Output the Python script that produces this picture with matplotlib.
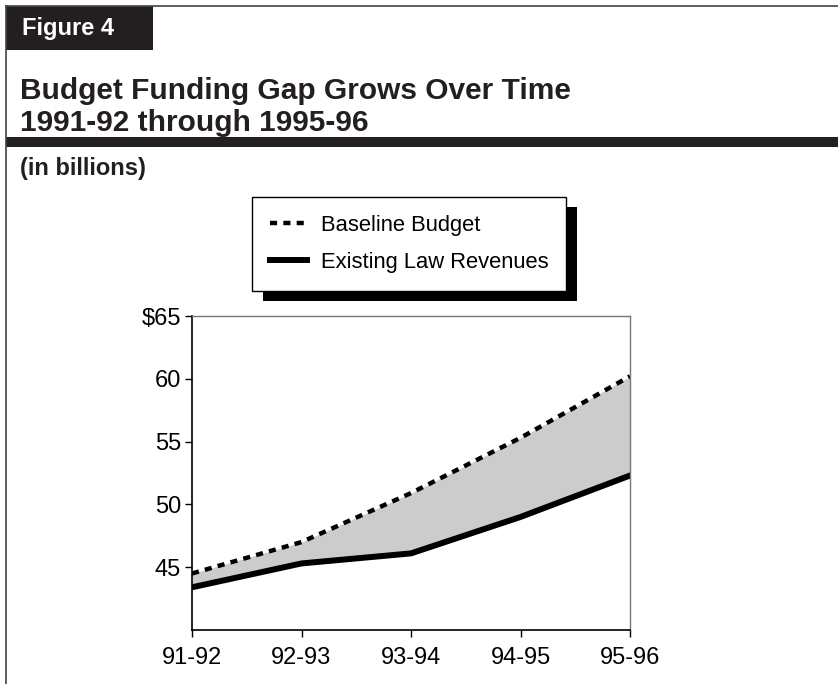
import matplotlib
matplotlib.use("Agg")
import matplotlib.pyplot as plt
from matplotlib.patches import Rectangle
from matplotlib.lines import Line2D

plt.rcParams['font.family'] = ['Liberation Sans', 'DejaVu Sans']

years = ["91-92", "92-93", "93-94", "94-95", "95-96"]
baseline = [44.5, 47.0, 50.9, 55.3, 60.2]
revenues = [43.4, 45.3, 46.1, 49.0, 52.3]
yticks = [45, 50, 55, 60, 65]
ytick_labels = ["45", "50", "55", "60", "$65"]

W, H = 838, 684
fig = plt.figure(figsize=(W / 100, H / 100), dpi=100)


def px(x, y):
    # pixel position (from top-left) -> figure fraction
    return x / W, 1 - y / H


# outer frame: left and top rules
fig.add_artist(Line2D([6 / W, 6 / W], [0, 1 - 6 / H], color='#444444', lw=1.2))
fig.add_artist(Line2D([6 / W, 1], [1 - 6 / H, 1 - 6 / H], color='#444444', lw=1.2))

# "Figure 4" tab
fig.add_artist(Rectangle(px(6, 50), 147 / W, 44 / H, color='#231f20', lw=0))
fig.text(*px(22, 28), "Figure 4", color='white', fontsize=17, fontweight='bold', va='center')

# title
fig.text(*px(20, 99), "Budget Funding Gap Grows Over Time", fontsize=21.5,
         fontweight='bold', va='baseline', color='#231f20')
fig.text(*px(20, 131), "1991-92 through 1995-96", fontsize=21.5,
         fontweight='bold', va='baseline', color='#231f20')

# heavy rule under the title
fig.add_artist(Rectangle(px(6, 147), 1 - 6 / W, 10 / H, color='#231f20', lw=0))

fig.text(*px(20, 169), "(in billions)", fontsize=17, fontweight='bold', va='center',
         color='#231f20')

ax = fig.add_axes([192 / W, 1 - 630 / H, 438 / W, 314 / H])
x = list(range(len(years)))
ax.fill_between(x, revenues, baseline, color='#cccccc', lw=0)
ax.plot(x, baseline, color='black', lw=3.2, dashes=(1.6, 1.4), label="Baseline Budget",
        dash_capstyle='butt')
ax.plot(x, revenues, color='black', lw=4.3, label="Existing Law Revenues")

ax.set_xlim(0, len(years) - 1)
ax.set_ylim(40, 65)
ax.set_xticks(x)
ax.set_xticklabels(years)
ax.set_yticks(yticks)
ax.set_yticklabels(ytick_labels)
ax.tick_params(axis='both', direction='out', length=5, width=1, labelsize=17, pad=3)
ax.tick_params(axis='x', pad=7)
ax.spines['left'].set_linewidth(1.2)
ax.spines['bottom'].set_linewidth(1.2)
for s in ('top', 'right'):
    ax.spines[s].set_color('#777777')
    ax.spines[s].set_linewidth(1)

leg = ax.legend(loc='upper left', bbox_to_anchor=px(252, 197), bbox_transform=fig.transFigure,
                frameon=True, fancybox=False, framealpha=1, fontsize=15.8, handlelength=1.7,
                handletextpad=0.65, borderpad=0.8, labelspacing=0.75, borderaxespad=0)
leg.get_frame().set_edgecolor('black')
leg.get_frame().set_facecolor('white')
leg.get_frame().set_linewidth(1)

# solid black drop shadow behind the legend box
fig.canvas.draw()
bb = leg.get_window_extent().transformed(fig.transFigure.inverted())
fig.add_artist(Rectangle((bb.x0 + 11 / W, bb.y0 - 10 / H), bb.width, bb.height,
                         color='black', lw=0, zorder=-1))

fig.savefig("out.png", dpi=100)
